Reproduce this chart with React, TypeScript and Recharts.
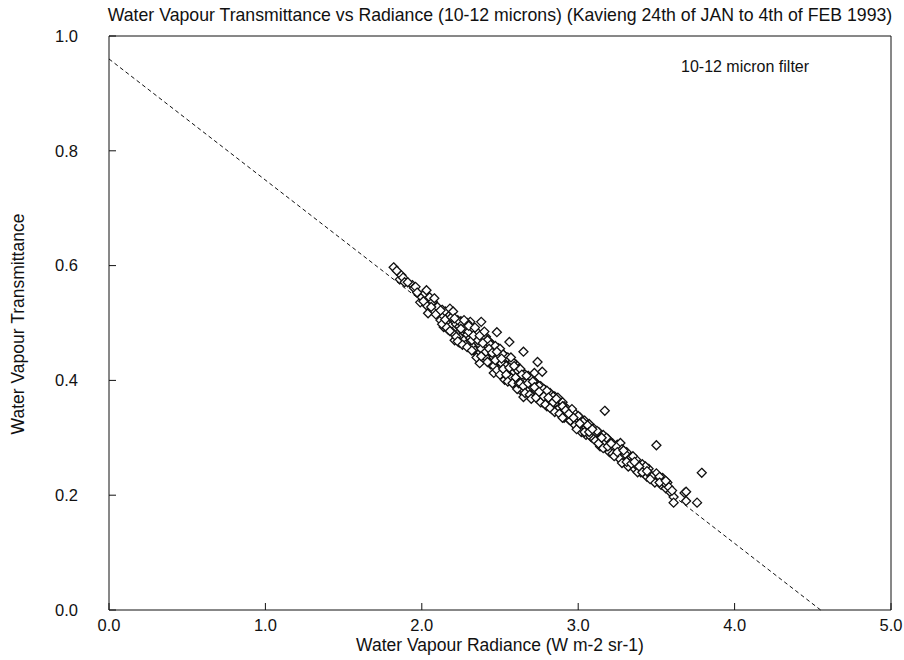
import React from "react";
import {
  ScatterChart,
  Scatter,
  XAxis,
  YAxis,
  ReferenceLine,
} from "recharts";

// radiance (W m-2 sr-1), transmittance
const observations: [number, number][] = [
  [1.82, 0.597], [1.84, 0.591], [1.86, 0.576], [1.87, 0.583], [1.88, 0.579],
  [1.89, 0.571], [1.94, 0.566], [1.95, 0.561], [1.96, 0.563], [1.99, 0.536],
  [2.0, 0.545], [2.02, 0.552], [2.03, 0.557], [2.03, 0.531], [2.04, 0.517],
  [2.05, 0.545], [2.07, 0.537], [2.07, 0.523], [2.08, 0.543], [2.1, 0.528],
  [2.13, 0.523], [2.11, 0.515], [2.12, 0.505], [2.14, 0.493], [2.14, 0.512],
  [2.15, 0.52], [2.16, 0.508], [2.17, 0.5], [2.18, 0.514], [2.19, 0.496],
  [2.2, 0.505], [2.21, 0.47], [2.21, 0.488], [2.22, 0.498], [2.23, 0.482],
  [2.24, 0.494], [2.25, 0.476], [2.25, 0.503], [2.26, 0.486], [2.27, 0.47],
  [2.28, 0.492], [2.29, 0.48], [2.3, 0.466], [2.31, 0.502], [2.31, 0.474],
  [2.32, 0.485], [2.33, 0.46], [2.34, 0.478], [2.35, 0.468], [2.35, 0.452],
  [2.36, 0.482], [2.37, 0.43], [2.37, 0.462], [2.38, 0.502], [2.38, 0.471],
  [2.39, 0.455], [2.4, 0.465], [2.4, 0.445], [2.41, 0.476], [2.42, 0.458],
  [2.43, 0.44], [2.43, 0.468], [2.44, 0.45], [2.45, 0.462], [2.45, 0.435],
  [2.46, 0.413], [2.46, 0.452], [2.47, 0.444], [2.48, 0.484], [2.48, 0.43],
  [2.49, 0.456], [2.5, 0.44], [2.5, 0.425], [2.51, 0.448], [2.52, 0.432],
  [2.53, 0.401], [2.53, 0.42], [2.54, 0.44], [2.55, 0.428], [2.56, 0.467],
  [2.56, 0.412], [2.57, 0.433], [2.58, 0.418], [2.59, 0.405], [2.6, 0.428],
  [2.6, 0.412], [2.61, 0.398], [2.62, 0.42], [2.63, 0.383], [2.63, 0.408],
  [2.64, 0.396], [2.65, 0.45], [2.65, 0.371], [2.65, 0.412], [2.66, 0.4],
  [2.67, 0.388], [2.68, 0.408], [2.69, 0.392], [2.7, 0.38], [2.7, 0.4],
  [2.71, 0.388], [2.72, 0.413], [2.72, 0.376], [2.73, 0.395], [2.74, 0.432],
  [2.74, 0.382], [2.75, 0.37], [2.76, 0.39], [2.77, 0.415], [2.77, 0.374],
  [2.78, 0.362], [2.79, 0.383], [2.8, 0.37], [2.81, 0.358], [2.82, 0.378],
  [2.83, 0.364], [2.84, 0.352], [2.85, 0.372], [2.86, 0.36], [2.87, 0.348],
  [2.88, 0.366], [2.89, 0.352], [2.9, 0.362], [2.9, 0.342], [2.91, 0.355],
  [2.92, 0.34], [2.93, 0.35], [2.94, 0.332], [2.95, 0.345], [2.96, 0.336],
  [2.97, 0.325], [2.98, 0.342], [2.99, 0.33], [3.0, 0.32], [3.01, 0.336],
  [3.02, 0.324], [3.03, 0.312], [3.04, 0.33], [3.05, 0.318], [3.06, 0.308],
  [3.07, 0.324], [3.08, 0.312], [3.09, 0.3], [3.1, 0.316], [3.11, 0.305],
  [3.12, 0.295], [3.13, 0.31], [3.14, 0.298], [3.15, 0.29], [3.16, 0.305],
  [3.17, 0.347], [3.17, 0.292], [3.18, 0.282], [3.19, 0.298], [3.2, 0.286],
  [3.21, 0.276], [3.22, 0.29], [3.23, 0.28], [3.24, 0.27], [3.25, 0.288],
  [3.26, 0.276], [3.27, 0.291], [3.27, 0.262], [3.28, 0.28], [3.29, 0.268],
  [3.3, 0.258], [3.31, 0.275], [3.32, 0.262], [3.33, 0.252], [3.34, 0.266],
  [3.35, 0.256], [3.36, 0.246], [3.37, 0.262], [3.38, 0.25], [3.4, 0.24],
  [3.41, 0.254], [3.42, 0.242], [3.44, 0.232], [3.45, 0.246], [3.46, 0.236],
  [3.48, 0.226], [3.5, 0.287], [3.5, 0.238], [3.51, 0.226], [3.53, 0.218],
  [3.54, 0.23], [3.56, 0.212], [3.57, 0.222], [3.59, 0.205], [3.61, 0.197],
  [3.61, 0.187], [3.68, 0.204], [3.69, 0.19], [3.69, 0.206], [3.76, 0.187],
  [3.79, 0.239],
  [1.91, 0.571], [1.97, 0.553], [2.01, 0.538], [2.06, 0.528], [2.09, 0.515],
  [2.12, 0.522], [2.13, 0.498], [2.15, 0.506], [2.17, 0.488], [2.18, 0.525],
  [2.19, 0.51], [2.2, 0.482], [2.22, 0.476], [2.23, 0.505], [2.24, 0.466],
  [2.26, 0.498], [2.27, 0.49], [2.28, 0.462], [2.29, 0.5], [2.3, 0.485],
  [2.32, 0.47], [2.33, 0.49], [2.34, 0.452], [2.36, 0.47], [2.36, 0.445],
  [2.38, 0.455], [2.39, 0.478], [2.41, 0.44], [2.42, 0.47], [2.44, 0.462],
  [2.44, 0.428], [2.46, 0.44], [2.47, 0.46], [2.49, 0.42], [2.49, 0.44],
  [2.5, 0.455], [2.51, 0.43], [2.52, 0.445], [2.53, 0.412], [2.54, 0.425],
  [2.55, 0.44], [2.57, 0.405], [2.57, 0.42], [2.58, 0.432], [2.59, 0.415],
  [2.6, 0.395], [2.61, 0.418], [2.62, 0.405], [2.63, 0.42], [2.64, 0.385],
  [2.66, 0.41], [2.67, 0.398], [2.68, 0.382], [2.69, 0.405], [2.7, 0.39],
  [2.71, 0.375], [2.72, 0.398], [2.73, 0.382], [2.74, 0.368], [2.75, 0.39],
  [2.76, 0.375], [2.77, 0.362], [2.78, 0.385], [2.79, 0.37], [2.8, 0.355],
  [2.8, 0.382], [2.82, 0.365], [2.83, 0.35], [2.84, 0.372], [2.86, 0.348],
  [2.87, 0.37], [2.88, 0.352], [2.89, 0.342], [2.9, 0.355], [2.91, 0.335],
  [2.93, 0.338], [2.95, 0.33], [2.96, 0.35], [2.98, 0.322], [3.0, 0.338],
  [3.02, 0.31], [3.03, 0.328], [3.05, 0.305], [3.06, 0.322], [3.08, 0.302],
  [3.1, 0.298], [3.12, 0.312], [3.14, 0.285], [3.16, 0.282], [3.18, 0.3],
  [3.2, 0.275], [3.22, 0.272], [3.24, 0.285], [3.26, 0.265], [3.28, 0.256],
  [3.3, 0.272], [3.32, 0.25], [3.35, 0.268], [3.38, 0.24], [3.43, 0.25],
  [3.47, 0.232], [3.49, 0.222], [3.52, 0.232], [3.55, 0.222], [3.58, 0.214],
  [3.6, 0.208],
  [2.16, 0.492], [2.18, 0.486], [2.2, 0.52], [2.21, 0.508], [2.23, 0.468],
  [2.25, 0.49], [2.26, 0.462], [2.27, 0.505], [2.29, 0.458], [2.3, 0.495],
  [2.32, 0.452], [2.33, 0.478], [2.34, 0.492], [2.35, 0.44], [2.37, 0.478],
  [2.38, 0.442], [2.39, 0.465], [2.4, 0.485], [2.41, 0.45], [2.42, 0.432],
  [2.43, 0.455], [2.45, 0.448], [2.46, 0.425], [2.47, 0.435], [2.48, 0.45],
  [2.48, 0.418], [2.5, 0.41], [2.51, 0.438], [2.52, 0.42], [2.54, 0.41],
  [2.55, 0.398], [2.56, 0.422], [2.57, 0.44], [2.58, 0.395], [2.59, 0.425],
  [2.6, 0.405], [2.61, 0.385], [2.62, 0.395], [2.63, 0.395], [2.64, 0.41],
  [2.65, 0.39], [2.66, 0.378], [2.67, 0.408], [2.68, 0.395], [2.69, 0.375],
  [2.7, 0.368], [2.71, 0.398], [2.72, 0.388], [2.73, 0.37], [2.75, 0.38],
  [2.76, 0.362], [2.78, 0.372], [2.79, 0.358], [2.81, 0.37], [2.82, 0.352],
  [2.84, 0.362], [2.85, 0.345], [2.86, 0.368], [2.88, 0.342], [2.9, 0.335],
  [2.92, 0.348], [2.94, 0.342], [2.97, 0.335], [2.99, 0.315], [3.01, 0.325],
  [3.04, 0.31], [3.07, 0.31], [3.09, 0.315], [3.11, 0.295], [3.13, 0.29],
  [3.15, 0.3], [3.19, 0.285], [3.21, 0.29], [3.23, 0.268], [3.25, 0.275],
  [3.29, 0.278], [3.31, 0.258], [3.34, 0.255], [3.36, 0.258], [3.39, 0.25],
  [3.41, 0.24], [3.44, 0.242], [3.46, 0.228], [3.52, 0.222], [3.56, 0.225],
];

// dashed fit line end points
const fitFrom = { x: 0, y: 0.96 };
const fitTo = { x: 4.55, y: 0 };

const xTicks = [0, 1, 2, 3, 4, 5];
const yTicks = [0, 0.2, 0.4, 0.6, 0.8, 1.0];

const FONT = '"Liberation Sans", Arial, Helvetica, sans-serif';
const INK = "#111";

const data = observations.map(([x, y]) => ({ x, y }));

const Diamond = (props: any) => {
  const { cx, cy } = props;
  if (cx == null || cy == null) return null;
  const r = 4.5;
  return (
    <polygon
      points={`${cx},${cy - r} ${cx + r},${cy} ${cx},${cy + r} ${cx - r},${cy}`}
      fill="#fff"
      stroke={INK}
      strokeWidth={1.3}
    />
  );
};

const tickStyle = { fontSize: 16.5, fill: INK, fontFamily: FONT };

export default function App() {
  return (
    <div
      style={{
        position: "absolute",
        left: 0,
        top: 0,
        width: 904,
        height: 660,
        background: "#fff",
        fontFamily: FONT,
        color: INK,
      }}
    >
      <ScatterChart
        width={904}
        height={660}
        margin={{ top: 31, right: 8, bottom: 0, left: 49 }}
      >
        <XAxis
          type="number"
          dataKey="x"
          domain={[0, 5]}
          ticks={xTicks}
          tickFormatter={(v: number) => v.toFixed(1)}
          tick={tickStyle}
          tickSize={-7}
          tickMargin={16}
          height={50}
          stroke={INK}
          allowDataOverflow
        />
        <XAxis
          xAxisId="top"
          orientation="top"
          type="number"
          domain={[0, 5]}
          ticks={xTicks}
          tick={false}
          tickSize={-7}
          height={5}
          stroke={INK}
        />
        <YAxis
          type="number"
          dataKey="y"
          domain={[0, 1]}
          ticks={yTicks}
          tickFormatter={(v: number) => v.toFixed(1)}
          tick={tickStyle}
          tickSize={-7}
          tickMargin={38}
          width={60}
          stroke={INK}
          allowDataOverflow
        />
        <YAxis
          yAxisId="right"
          orientation="right"
          type="number"
          domain={[0, 1]}
          ticks={yTicks}
          tick={false}
          tickSize={-7}
          width={5}
          stroke={INK}
        />
        <ReferenceLine
          segment={[fitFrom, fitTo]}
          stroke={INK}
          strokeWidth={1}
          strokeDasharray="4 3"
        />
        <Scatter
          data={data}
          shape={Diamond}
          isAnimationActive={false}
        />
      </ScatterChart>

      <div
        style={{
          position: "absolute",
          left: 0,
          width: 1000,
          top: 5,
          textAlign: "center",
          fontSize: 17.7,
          whiteSpace: "nowrap",
        }}
      >
        Water Vapour Transmittance vs Radiance (10-12 microns) (Kavieng 24th of
        JAN to 4th of FEB 1993)
      </div>
      <div
        style={{
          position: "absolute",
          left: 681,
          top: 58,
          fontSize: 16,
          whiteSpace: "nowrap",
        }}
      >
        10-12 micron filter
      </div>
      <div
        style={{
          position: "absolute",
          left: 300,
          width: 400,
          top: 635,
          textAlign: "center",
          fontSize: 17.5,
          whiteSpace: "nowrap",
        }}
      >
        Water Vapour Radiance (W m-2 sr-1)
      </div>
      <div
        style={{
          position: "absolute",
          left: 18,
          top: 324,
          transform: "translate(-50%, -50%) rotate(-90deg)",
          fontSize: 17.5,
          whiteSpace: "nowrap",
        }}
      >
        Water Vapour Transmittance
      </div>
    </div>
  );
}
